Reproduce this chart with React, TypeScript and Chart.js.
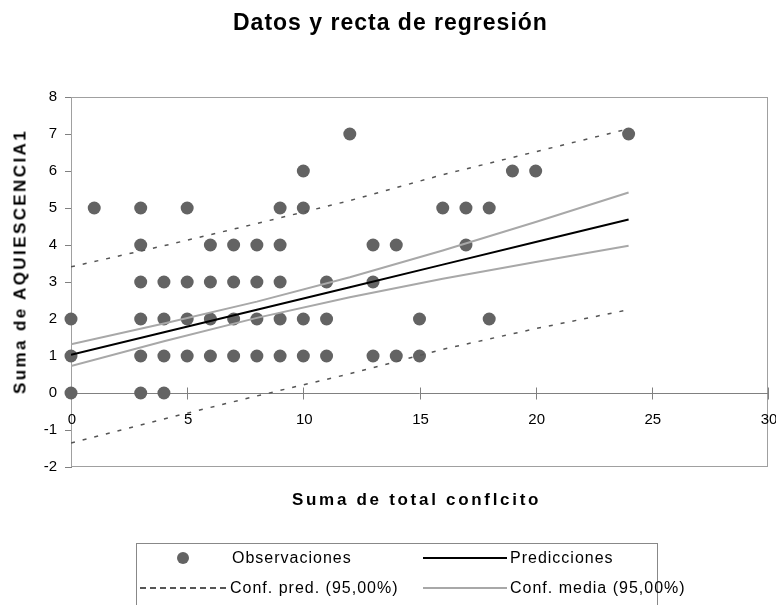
import React, { useEffect, useRef } from "react";
import { Chart, registerables } from "chart.js";

Chart.register(...registerables);

// Observations
const obsX = [0, 0, 0, 1, 3, 3, 3, 3, 3, 3, 4, 4, 4, 4, 5, 5, 5, 5, 6, 6, 6, 6, 7, 7, 7, 7, 8, 8, 8, 8, 9, 9, 9, 9, 9, 10, 10, 10, 10, 11, 11, 11, 12, 13, 13, 13, 14, 14, 15, 15, 16, 17, 17, 18, 18, 19, 20, 24];
const obsY = [0, 1, 2, 5, 0, 1, 2, 3, 4, 5, 0, 1, 2, 3, 1, 2, 3, 5, 1, 2, 3, 4, 1, 2, 3, 4, 1, 2, 3, 4, 1, 2, 3, 4, 5, 1, 2, 5, 6, 1, 2, 3, 7, 1, 3, 4, 1, 4, 1, 2, 5, 4, 5, 2, 5, 6, 6, 7];

// Lines (read at these x positions)
const lineX = [0, 4, 8, 12, 16, 20, 24];
const predicciones = [1.03, 1.64, 2.25, 2.86, 3.47, 4.08, 4.69];
const mediaSup = [1.32, 1.88, 2.47, 3.13, 3.85, 4.62, 5.42];
const mediaInf = [0.73, 1.4, 2.03, 2.59, 3.09, 3.54, 3.98];
const predSup = [3.41, 3.98, 4.58, 5.2, 5.9, 6.52, 7.14];
const predInf = [-1.35, -0.7, -0.08, 0.52, 1.18, 1.74, 2.25];

const xTicks = [0, 5, 10, 15, 20, 25, 30];

const title = "Datos y recta de regresión";
const xTitle = "Suma de total conflcito";
const yTitle = "Suma de AQUIESCENCIA1";
const legendLabels = ["Observaciones", "Predicciones", "Conf. pred. (95,00%)", "Conf. media (95,00%)"];

const FONT = "'Liberation Sans', Arial, sans-serif";

const toPts = (xs: number[], ys: number[]) => xs.map((x, i) => ({ x, y: ys[i] }));

const framePlugin = {
  id: "frame",
  beforeDatasetsDraw(chart: any) {
    const { ctx, chartArea } = chart;
    const xs = chart.scales.x;
    const ys = chart.scales.y;
    ctx.save();
    // plot area border
    ctx.strokeStyle = "#a0a0a0";
    ctx.lineWidth = 1;
    ctx.strokeRect(chartArea.left + 0.5, chartArea.top + 0.5, chartArea.right - chartArea.left - 1, chartArea.bottom - chartArea.top - 1);
    // x axis at y = 0
    const y0 = Math.round(ys.getPixelForValue(0)) + 0.5;
    ctx.strokeStyle = "#808080";
    ctx.beginPath();
    ctx.moveTo(chartArea.left, y0);
    ctx.lineTo(chartArea.right, y0);
    xTicks.forEach((t) => {
      const px = Math.round(xs.getPixelForValue(t)) + 0.5;
      ctx.moveTo(px, y0 - 6);
      ctx.lineTo(px, y0 + 6);
    });
    ctx.stroke();
    ctx.restore();
  },
  afterDatasetsDraw(chart: any) {
    const { ctx } = chart;
    const xs = chart.scales.x;
    const ys = chart.scales.y;
    const y0 = ys.getPixelForValue(0);
    ctx.save();
    ctx.fillStyle = "#000";
    ctx.font = `15px ${FONT}`;
    ctx.textAlign = "center";
    ctx.textBaseline = "middle";
    xTicks.forEach((t) => {
      ctx.fillText(String(t), xs.getPixelForValue(t) + 1, y0 + 27);
    });
    ctx.restore();
  },
};

function App() {
  const ref = useRef<HTMLCanvasElement>(null);

  useEffect(() => {
    const canvas = ref.current;
    if (!canvas) return;
    const chart = new Chart(canvas, {
      type: "scatter",
      data: {
        datasets: [
          {
            label: legendLabels[1],
            data: toPts(lineX, predicciones),
            showLine: true,
            borderColor: "#000000",
            borderWidth: 2,
            pointRadius: 0,
          },
          {
            label: legendLabels[3],
            data: toPts(lineX, mediaSup),
            showLine: true,
            borderColor: "#a8a8a8",
            borderWidth: 2,
            pointRadius: 0,
          },
          {
            label: legendLabels[3],
            data: toPts(lineX, mediaInf),
            showLine: true,
            borderColor: "#a8a8a8",
            borderWidth: 2,
            pointRadius: 0,
          },
          {
            label: legendLabels[2],
            data: toPts(lineX, predSup),
            showLine: true,
            borderColor: "#555555",
            borderWidth: 1.5,
            borderDash: [4, 8],
            pointRadius: 0,
          },
          {
            label: legendLabels[2],
            data: toPts(lineX, predInf),
            showLine: true,
            borderColor: "#555555",
            borderWidth: 1.5,
            borderDash: [4, 8],
            pointRadius: 0,
          },
          {
            label: legendLabels[0],
            data: toPts(obsX, obsY),
            pointRadius: 6.5,
            pointBackgroundColor: "#636363",
            pointBorderWidth: 0,
            showLine: false,
            clip: false as any,
          },
        ],
      },
      options: {
        animation: false,
        responsive: false,
        devicePixelRatio: 1,
        layout: { padding: { left: 31, right: 8, top: 97, bottom: 138 } },
        plugins: {
          legend: { display: false },
          tooltip: { enabled: false },
          title: { display: false },
        },
        scales: {
          x: {
            type: "linear",
            min: 0,
            max: 30,
            display: false,
          },
          y: {
            min: -2,
            max: 8,
            afterFit: (s: any) => {
              s.width = 40;
            },
            ticks: {
              stepSize: 1,
              color: "#000",
              font: { family: FONT, size: 15 },
              padding: 8,
            },
            grid: {
              drawOnChartArea: false,
              drawTicks: true,
              tickLength: 6,
              color: "#808080",
            },
            border: { color: "#808080" },
          },
        },
      },
      plugins: [framePlugin],
    });
    return () => chart.destroy();
  }, []);

  const txt = (extra: React.CSSProperties): React.CSSProperties => ({
    position: "absolute",
    whiteSpace: "nowrap",
    lineHeight: 1,
    color: "#000",
    fontFamily: FONT,
    ...extra,
  });

  return (
    <div
      style={{
        position: "fixed",
        left: 0,
        top: 0,
        width: 776,
        height: 605,
        overflow: "hidden",
        background: "#fff",
        fontFamily: FONT,
      }}
    >
      <canvas ref={ref} width={776} height={605} style={{ display: "block", width: 776, height: 605 }} />
      <div style={txt({ left: 233, top: 11, fontSize: 23, fontWeight: "bold", letterSpacing: "1px" })}>{title}</div>
      <div style={txt({ left: 292, top: 491, fontSize: 17, fontWeight: "bold", letterSpacing: "2.7px" })}>{xTitle}</div>
      <div
        style={txt({
          left: 20 - 200,
          top: 262 - 9,
          width: 400,
          textAlign: "center",
          fontSize: 17,
          fontWeight: "bold",
          letterSpacing: "2.4px",
          transform: "rotate(-90deg)",
          transformOrigin: "50% 50%",
        })}
      >
        {yTitle}
      </div>
      {/* Legend */}
      <div
        style={{
          position: "absolute",
          left: 136,
          top: 543,
          width: 522,
          height: 80,
          border: "1px solid #888",
          boxSizing: "border-box",
        }}
      />
      <div
        style={{
          position: "absolute",
          left: 183 - 6,
          top: 558 - 6,
          width: 12,
          height: 12,
          borderRadius: "50%",
          background: "#636363",
        }}
      />
      <div style={txt({ left: 232, top: 550, fontSize: 16, letterSpacing: "1px" })}>{legendLabels[0]}</div>
      <div
        style={{
          position: "absolute",
          left: 140,
          top: 587,
          width: 86,
          height: 0,
          borderTop: "2px dashed #555",
        }}
      />
      <div style={txt({ left: 230, top: 580, fontSize: 16, letterSpacing: "1px" })}>{legendLabels[2]}</div>
      <div
        style={{ position: "absolute", left: 423, top: 557, width: 84, height: 2, background: "#000" }}
      />
      <div style={txt({ left: 510, top: 550, fontSize: 16, letterSpacing: "1px" })}>{legendLabels[1]}</div>
      <div
        style={{ position: "absolute", left: 423, top: 587, width: 84, height: 2, background: "#a8a8a8" }}
      />
      <div style={txt({ left: 510, top: 580, fontSize: 16, letterSpacing: "1px" })}>{legendLabels[3]}</div>
    </div>
  );
}

export default App;
